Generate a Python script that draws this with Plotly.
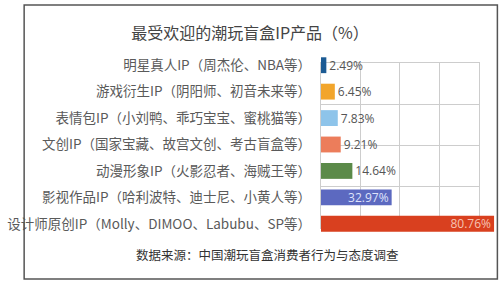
import plotly.graph_objects as go

# ---- data ----
categories = [
    "明星真人IP（周杰伦、NBA等）",
    "游戏衍生IP（阴阳师、初音未来等）",
    "表情包IP（小刘鸭、乖巧宝宝、蜜桃猫等）",
    "文创IP（国家宝藏、故宫文创、考古盲盒等）",
    "动漫形象IP（火影忍者、海贼王等）",
    "影视作品IP（哈利波特、迪士尼、小黄人等）",
    "设计师原创IP（Molly、DIMOO、Labubu、SP等）",
]
values = [2.49, 6.45, 7.83, 9.21, 14.64, 32.97, 80.76]
bar_colors = ["#1c5b94", "#f2a52b", "#8ec4ea", "#ec7d5b", "#5b8a49", "#5c69c0", "#d9401f"]
text_pos = ["outside", "outside", "outside", "outside", "outside", "inside", "inside"]
text_colors = ["#555555"] * 5 + ["#dfe3fb", "#f6c3b3"]
title_text = "最受欢迎的潮玩盲盒IP产品（%）"
source_text = "数据来源：中国潮玩盲盒消费者行为与态度调查"

# ---- layout geometry (pixels) ----
W, H = 502, 284
L, R, T, B = 313, 7, 52, 47
pw, ph = W - L - R, H - T - B

def px_x(x):
    return (x - L) / pw

def px_y(y):
    return (H - B - y) / ph

cjk = "Noto Sans CJK SC"

fig = go.Figure()

# invisible trace that creates the decorative grid subplot (drawn below bars)
fig.add_trace(go.Scatter(x=[2], y=[2], xaxis="x", yaxis="y", mode="markers",
                         marker=dict(opacity=0, size=1),
                         showlegend=False, hoverinfo="skip"))

fig.add_trace(go.Bar(
    x=values, y=categories, orientation="h",
    xaxis="x2", yaxis="y2",
    marker=dict(color=bar_colors, line=dict(width=0)),
    texttemplate="%{x:.2f}%",
    textposition=text_pos,
    insidetextanchor="end",
    textfont=dict(family="Open Sans", size=12, color=text_colors),
    cliponaxis=False,
    showlegend=False,
))

grid_col = "#cdcdcd"
fig.update_layout(
    width=W, height=H,
    margin=dict(l=L, r=R, t=T, b=B, pad=0),
    paper_bgcolor="white",
    plot_bgcolor="rgba(0,0,0,0)",
    bargap=0.4,
    uniformtext=dict(minsize=12, mode="show"),
    title=dict(text=title_text, xref="container", yref="container",
               x=250 / W, y=1 - 33 / H, xanchor="center", yanchor="middle",
               font=dict(family=cjk, size=16, color="#444444")),
    xaxis=dict(domain=[0, px_x(478)], range=[0, 4], tickmode="linear", tick0=0, dtick=1,
               showgrid=True, gridcolor=grid_col, gridwidth=1, zeroline=False,
               showticklabels=False, ticks="", showline=True, linecolor=grid_col,
               linewidth=1, mirror=True, fixedrange=True, anchor="y"),
    yaxis=dict(domain=[px_y(228), px_y(63)], range=[0, 4], tickmode="linear", tick0=0, dtick=1,
               showgrid=True, gridcolor=grid_col, gridwidth=1, zeroline=False,
               showticklabels=False, ticks="", showline=True, linecolor=grid_col,
               linewidth=1, mirror=True, fixedrange=True, anchor="x"),
    xaxis2=dict(domain=[0, 1], anchor="y2", range=[0, 81.2], showgrid=False,
                zeroline=False, showticklabels=False, showline=False, fixedrange=True),
    yaxis2=dict(domain=[0, 1], anchor="x2", type="category",
                categoryorder="array", categoryarray=categories,
                autorange="reversed", showgrid=False, zeroline=False,
                showline=False, ticks="", ticklabelstandoff=9,
                tickfont=dict(family=cjk, size=13.5, color="#5a5a5a"),
                fixedrange=True),
    annotations=[dict(text=source_text, xref="paper", yref="paper",
                      x=px_x(257), y=px_y(254), xanchor="center", yanchor="middle",
                      showarrow=False,
                      font=dict(family=cjk, size=12.5, color="#333333"))],
    shapes=[dict(type="rect", xref="paper", yref="paper",
                 x0=px_x(2.5), x1=px_x(497.5), y0=px_y(279), y1=px_y(5),
                 line=dict(color="#555555", width=1.5), layer="above")],
)

fig.write_html("out.html")
